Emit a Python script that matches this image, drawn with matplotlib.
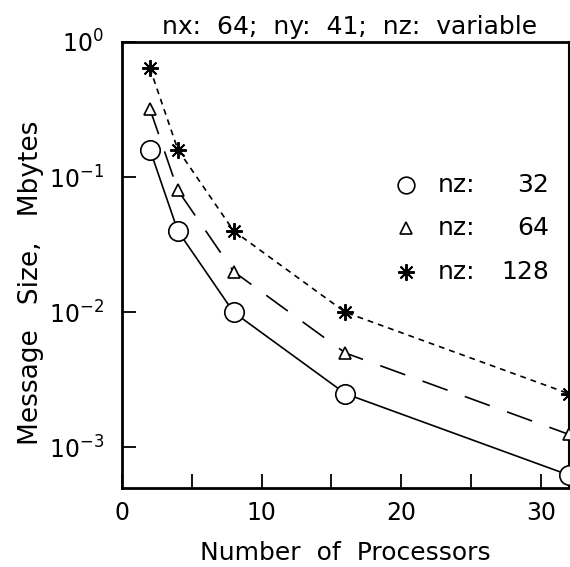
import numpy as np
import matplotlib
matplotlib.use("Agg")
import matplotlib.pyplot as plt
from matplotlib.ticker import FixedLocator, LogLocator, NullLocator

plt.rcParams['font.family'] = ['DejaVu Sans']
plt.rcParams['mathtext.fontset'] = 'dejavusans'

# data
procs = [2, 4, 8, 16, 32]
nz_labels = ['32', '64', '128']
size_nz32 = [0.16, 0.04, 0.01, 0.0025, 0.000625]
size_nz64 = [0.32, 0.08, 0.02, 0.005, 0.00125]
size_nz128 = [0.64, 0.16, 0.04, 0.01, 0.0025]

fig = plt.figure(figsize=(5.7, 5.67), dpi=100)
ax = fig.add_axes([0.214, 0.139, 0.784, 0.787])

ax.plot(procs, size_nz32, '-', color='black', lw=1.2, marker='o', ms=14,
        mfc='white', mec='black', mew=1.2, clip_on=False, zorder=3)
ax.plot(procs, size_nz64, color='black', lw=1.2, dashes=(16, 11), marker='^',
        ms=9, mfc='white', mec='black', mew=1.2, clip_on=False, zorder=3)
ax.plot(procs, size_nz128, color='black', lw=1.2, dashes=(3.5, 3), marker=(8, 2, 0),
        ms=12, mec='black', mew=1.4, clip_on=False, zorder=3)

ax.set_yscale('log')
ax.set_xlim(0, 32)
ax.set_ylim(5e-4, 1)

ax.xaxis.set_major_locator(FixedLocator([0, 10, 20, 30]))
ax.xaxis.set_minor_locator(FixedLocator([5, 15, 25]))
ax.yaxis.set_major_locator(LogLocator(base=10, numticks=10))
ax.yaxis.set_minor_locator(NullLocator())

ax.tick_params(which='both', direction='in', top=False, right=False,
               length=10, width=1.3, labelsize=17)
ax.tick_params(axis='x', pad=9)
ax.tick_params(axis='y', pad=13)

for side in ['left', 'top', 'bottom']:
    ax.spines[side].set_linewidth(2)
ax.spines['right'].set_linewidth(1.5)

ax.set_xlabel('Number  of  Processors', fontsize=18, labelpad=12)
ax.set_ylabel('Message   Size,   Mbytes', fontsize=19)
ax.yaxis.set_label_coords(-0.175, 0.46)
ax.set_title('nx:  64;  ny:  41;  nz:  variable', fontsize=18, pad=6, x=0.51)

# legend drawn by hand
leg_y = [0.679, 0.583, 0.484]
leg_markers = [dict(marker='o', ms=12, mfc='white', mew=1.2),
               dict(marker='^', ms=8, mfc='white', mew=1.2),
               dict(marker=(8, 2, 0), ms=12, mew=1.4)]
for y, lab, mk in zip(leg_y, nz_labels, leg_markers):
    ax.plot([0.635], [y], transform=ax.transAxes, color='black', mec='black',
            clip_on=False, ls='none', **mk)
    ax.text(0.707, y, 'nz:', transform=ax.transAxes, fontsize=18,
            ha='left', va='center')
    ax.text(0.955, y, lab, transform=ax.transAxes, fontsize=18,
            ha='right', va='center')

fig.savefig('out.png', dpi=100)
